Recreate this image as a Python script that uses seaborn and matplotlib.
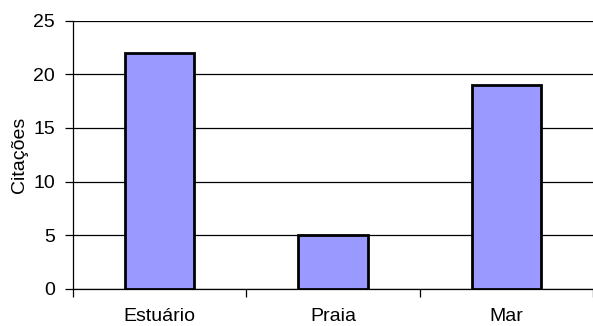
import matplotlib
matplotlib.use("Agg")
import matplotlib.pyplot as plt
import seaborn as sns
import pandas as pd
from matplotlib.ticker import FixedLocator

categorias = ["Estuário", "Praia", "Mar"]
citacoes = [22, 5, 19]
yticks = [0, 5, 10, 15, 20, 25]

sns.set_style("white")
plt.rcParams["font.family"] = ["Liberation Sans", "DejaVu Sans"]

df = pd.DataFrame({"local": categorias, "citacoes": citacoes})

fig = plt.figure(figsize=(5.93, 3.26), dpi=100)
ax = fig.add_axes([73 / 593, 1 - 288.7 / 326, 1 - 73 / 593, (288.7 - 20.7) / 326])

sns.barplot(data=df, x="local", y="citacoes", color="#9999FF", edgecolor="black",
            linewidth=2, width=0.40, saturation=1, ax=ax, zorder=3)

ax.set_xlim(-0.5, len(categorias) - 0.5)
ax.set_ylim(0, 25)
ax.set_yticks(yticks)
ax.yaxis.grid(True, color="black", linewidth=0.9)
ax.set_axisbelow(True)

for s in ["top", "right"]:
    ax.spines[s].set_visible(False)
for s in ["left", "bottom"]:
    ax.spines[s].set_visible(True)
    ax.spines[s].set_color("black")
    ax.spines[s].set_linewidth(0.9)

# category separators as ticks on the x axis
ax.xaxis.set_minor_locator(FixedLocator([i - 0.5 for i in range(len(categorias) + 1)]))
ax.tick_params(axis="x", which="major", length=0, labelsize=14, pad=14, colors="black")
ax.tick_params(axis="x", which="minor", length=6, width=0.9, direction="out", color="black", bottom=True)
ax.tick_params(axis="y", length=6, width=0.9, direction="out", labelsize=14, pad=7,
               left=True, colors="black")

ax.set_xlabel("")
ax.set_ylabel("Citações", fontsize=14, labelpad=4, color="black")

fig.savefig("out.png", dpi=100)
